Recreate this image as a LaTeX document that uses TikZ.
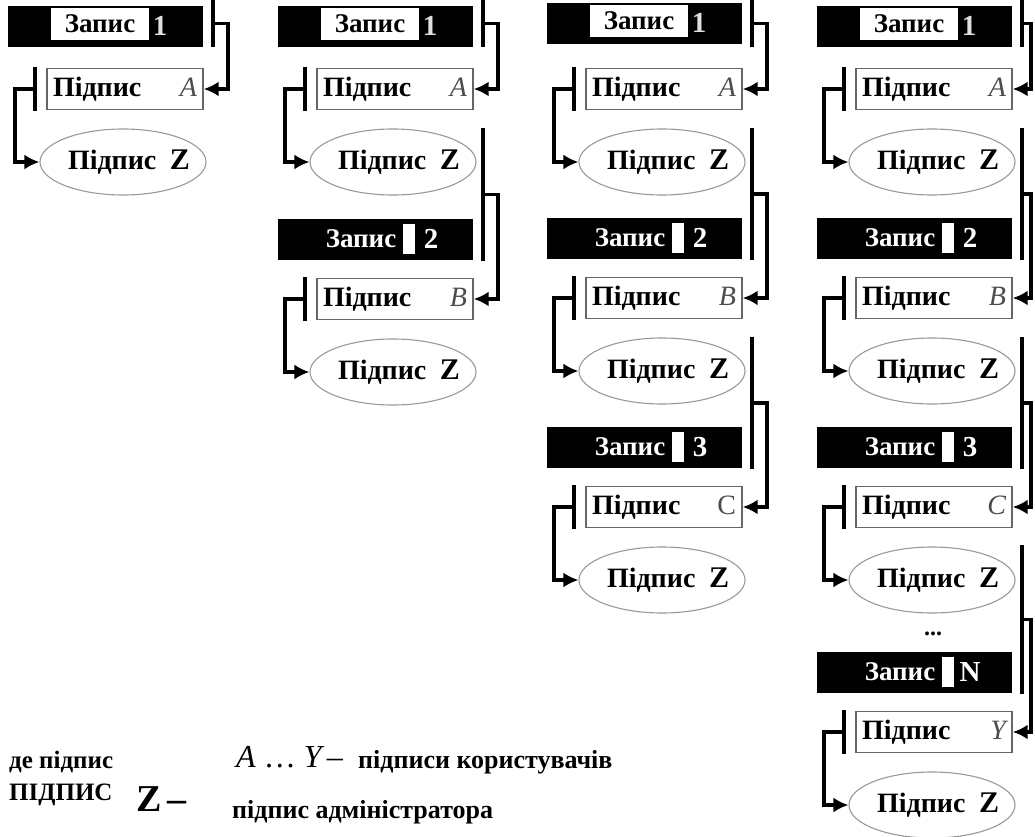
\documentclass[tikz,border=0pt]{standalone}
\usepackage{fontspec}
\setmainfont{Liberation Serif}
\usetikzlibrary{arrows.meta,shapes.geometric,calc}

\tikzset{
  recbar/.style={fill=black, draw=none, minimum width=195pt, minimum height=41pt, inner sep=0pt},
  recwhite/.style={fill=white, draw=none, minimum width=98pt, minimum height=32pt, inner sep=0pt,
    font=\fontsize{27}{27}\selectfont\bfseries},
  rectext/.style={text=white, inner sep=0pt, font=\fontsize{27}{27}\selectfont\bfseries},
  numtext/.style={text=black!12, inner sep=0pt, font=\fontsize{29}{29}\selectfont\bfseries},
  whitepatch/.style={fill=white, draw=none, minimum width=12pt, minimum height=30pt, inner sep=0pt},
  sigbox/.style={draw=black!60, line width=1.4pt, minimum width=156pt, minimum height=41pt,
    inner sep=0pt, font=\fontsize{28}{28}\selectfont\bfseries},
  admell/.style={ellipse, draw=black!40, line width=1.1pt, minimum width=166pt, minimum height=66pt,
    inner sep=0pt, font=\fontsize{28}{28}\selectfont\bfseries},
  vbar/.style={line width=3.8pt},
  conn/.style={line width=3.2pt, -{Latex[length=15pt,width=15pt]}},
  legend/.style={anchor=west, inner sep=0pt, font=\fontsize{25}{25}\selectfont\bfseries},
}

% first record of a column: black bar with a white label box
\newcommand{\firstrec}[3]{%
  \node[recbar] (rec-#1) at ({#2+97.5},{#3+20}) {};
  \node[recwhite] (rw-#1) at ({#2+92},{#3+17}) {Запис};
  \node[numtext] (rn-#1) at ({#2+152},{#3+19}) {1};
}
% following records: white title on the black bar
\newcommand{\nextrec}[4]{%
  \node[recbar] (rec-#1) at ({#2+97.5},{#3+22}) {};
  \node[rectext] (rl-#1) at ({#2+83},{#3+22}) {Запис};
  \node[whitepatch] (rp-#1) at ({#2+131},{#3+22}) {};
  \node[numtext, text=white] (rn-#1) at ({#2+153},{#3+22}) {#4};
}
% user signature box, administrator signature ellipse and the link between them
% (the ellipse text is boxed narrower than it is, so the ellipse keeps its set size)
\newcommand{\sigpair}[4]{%
  \node[sigbox] (sig-#1) at ({#2+117},{#3+82}) {\makebox[144pt]{Підпис\hfill{\mdseries\itshape\color{black!70}#4}}};
  \node[admell] (adm-#1) at ({#2+115},{#3+155}) {\makebox[100pt][c]{\makebox[134pt]{\hspace*{12pt}Підпис\hfill{\fontsize{30}{30}\selectfont Z}}}};
  \coordinate (lt-#1) at ({#2+27},{#3+60});
  \coordinate (lb-#1) at ({#2+27},{#3+104});
  \draw[vbar] (lt-#1) -- (lb-#1);
  \coordinate (lm-#1) at ($(lt-#1)!.5!(lb-#1)$);
  \coordinate (lk-#1) at ({#2+7},{#3+82});
  \draw[conn] (lm-#1) -- (lk-#1) |- (adm-#1.west);
}
% bar on the right of a record and its link to the next signature box
\newcommand{\rightlink}[4]{%
  \coordinate (rt-#1) at ({#2+205},{#3});
  \coordinate (rb-#1) at ({#2+205},{#4});
  \draw[vbar] (rt-#1) -- (rb-#1);
  \coordinate (rm-#1) at ($(rt-#1)!.5!(rb-#1)$);
  \coordinate (rk-#1) at ({min(#2+220,1031)},{(#3+#4)/2});
  \draw[conn] (rm-#1) -- (rk-#1) |- (sig-#1.east);
}

\begin{document}
\begin{tikzpicture}[x=1pt, y=-1pt]
\useasboundingbox (0,0) rectangle (1035,837);
\fill[white] (0,0) rectangle (1035,837);

% column 1
\firstrec{a1}{8}{7}
\sigpair{a1}{8}{7}{A}
\rightlink{a1}{8}{0}{47}

% column 2
\firstrec{b1}{278}{7}
\sigpair{b1}{278}{7}{A}
\rightlink{b1}{278}{0}{47}
\nextrec{b2}{278}{217}{2}
\sigpair{b2}{278}{217}{B}
\rightlink{b2}{278}{128}{261}

% column 3
\firstrec{c1}{547}{4}
\sigpair{c1}{547}{7}{A}
\rightlink{c1}{547}{0}{47}
\nextrec{c2}{547}{216}{2}
\sigpair{c2}{547}{216}{B}
\rightlink{c2}{547}{128}{260}
\nextrec{c3}{547}{425}{3}
\sigpair{c3}{547}{425}{\upshape C}
\rightlink{c3}{547}{337}{469}

% column 4
\firstrec{d1}{817}{7}
\sigpair{d1}{817}{7}{A}
\rightlink{d1}{817}{0}{47}
\nextrec{d2}{817}{216}{2}
\sigpair{d2}{817}{216}{B}
\rightlink{d2}{817}{128}{260}
\nextrec{d3}{817}{425}{3}
\sigpair{d3}{817}{425}{C}
\rightlink{d3}{817}{337}{469}
\node[inner sep=0pt, font=\fontsize{24}{24}\selectfont\bfseries] (dots) at (933,634) {...};
\nextrec{d4}{817}{650}{N}
\sigpair{d4}{817}{650}{Y}
\rightlink{d4}{817}{545}{694}

% legend
\node[legend] (lg1) at (9,762) {де підпис};
\node[legend] (lg2) at (9,795) {ПІДПИС};
\node[legend, font=\fontsize{32}{32}\selectfont] (lg3) at (236,757) {\itshape A \upshape\ldots{} \itshape Y\upshape\,–};
\node[legend, font=\fontsize{26}{26}\selectfont\bfseries] (lg4) at (358,762) {підписи користувачів};
\node[legend, font=\fontsize{38}{38}\selectfont\bfseries] (lg5) at (136,799) {Z\,–};
\node[legend, font=\fontsize{26}{26}\selectfont\bfseries] (lg6) at (232,812) {підпис адміністратора};
\end{tikzpicture}
\end{document}
